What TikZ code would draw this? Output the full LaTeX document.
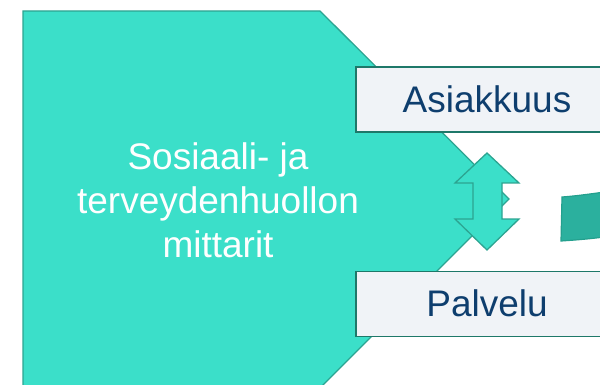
\documentclass[tikz,border=0pt]{standalone}
\usepackage{fontspec}
\setmainfont{Liberation Sans}
\usetikzlibrary{positioning}
\definecolor{turkoosi}{RGB}{59,223,201}
\definecolor{turkreuna}{RGB}{44,164,145}
\definecolor{tumma}{RGB}{43,176,158}
\definecolor{tummareuna}{RGB}{36,160,142}
\definecolor{vaalea}{RGB}{240,243,247}
\definecolor{laatreuna}{RGB}{30,120,105}
\definecolor{sininen}{RGB}{14,62,110}

\begin{document}
\begin{tikzpicture}[x=1pt,y=-1pt]
\tikzstyle{osa}=[rectangle,draw=laatreuna,fill=vaalea,line width=1.2pt,minimum width=262pt,minimum height=65pt,text=sininen,font=\fontsize{37}{44}\selectfont]
\tikzstyle{muoto}=[draw=turkreuna,fill=turkoosi,line width=1.3pt,line join=miter]
\useasboundingbox (0,0) rectangle (600,385);
% iso nuolilaatikko
\draw[muoto] (23,11) -- (320,11) -- (509,199) -- (321,387) -- (23,387) -- cycle;
\node[text=white,align=center,font=\fontsize{37}{44}\selectfont] (mittarit) at (218,200) {Sosiaali- ja\\terveydenhuollon\\mittarit};
\node[osa] (asiakkuus) at (487,99.5) {Asiakkuus};
\node[osa,below=138pt of asiakkuus] (palvelu) {Palvelu};
% kaksisuuntainen nuoli
\draw[muoto] (487,153) -- (519,183) -- (502,183) -- (502,219) -- (519,219) -- (487,250)
  -- (455,219) -- (473,219) -- (473,183) -- (455,183) -- cycle;
% oikea kaari
\draw[draw=tummareuna,fill=tumma,line width=1.2pt] (562,197) .. controls (576,196) and (590,194) .. (612,191)
  -- (612,236) .. controls (590,239) and (576,240) .. (561,241) -- cycle;
\end{tikzpicture}
\end{document}
